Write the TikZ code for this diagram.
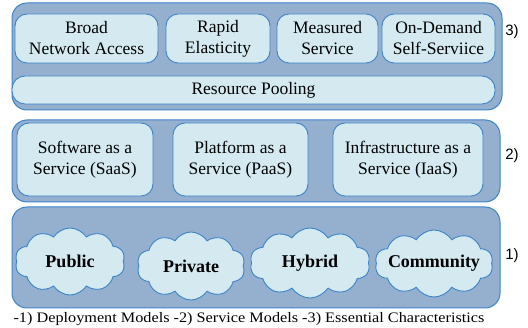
\documentclass[tikz,border=0pt]{standalone}
\usepackage{fontspec}
\setmainfont{Liberation Serif}
\newfontfamily\tagfont{Liberation Sans}
\newfontfamily\capfont[FakeStretch=1.12]{Liberation Serif}
\usepackage{tikz}
\usetikzlibrary{shapes.symbols, positioning}
\usepackage{xcolor}
\definecolor{panelfill}{HTML}{95AFCF}
\definecolor{cardfill}{HTML}{D4EAF0}
\definecolor{edgeblue}{HTML}{3C84C8}

\begin{document}
\begin{tikzpicture}[
  x=1pt, y=-1pt,
  panel/.style={rectangle, draw=edgeblue, fill=panelfill, line width=1pt, rounded corners=15pt, inner sep=0pt},
  card/.style={rectangle, draw=edgeblue, fill=cardfill, line width=0.9pt, rounded corners=12pt, align=center, inner sep=0pt, minimum height=49pt, font=\fontsize{17.5}{21}\selectfont},
  cloudbox/.style={cloud, draw=edgeblue, fill=cardfill, line width=0.9pt, cloud puffs=10, cloud puff arc=115, cloud ignores aspect, inner xsep=-16pt, inner ysep=-4pt, font=\fontsize{18}{21}\selectfont\bfseries},
  tag/.style={font=\tagfont\fontsize{15}{18}\selectfont},
]
\useasboundingbox (0,0) rectangle (528,328);

% essential characteristics
\node[panel, minimum width=490pt, minimum height=107pt] (essential) at (257,56.5) {};
\node[card, minimum width=143pt] (broad) at (86.5,38.5) {Broad\\Network Access};
\node[card, minimum width=104pt] (rapid) at (218,38.5) {Rapid\\Elasticity};
\node[card, minimum width=101pt] (measured) at (327.5,38.5) {Measured\\Service};
\node[card, minimum width=113pt] (ondemand) at (438.5,38.5) {On-Demand\\Self-Serviice};
\node[card, minimum width=483pt, minimum height=28pt, rounded corners=13pt] (pooling) at (253.5,90) {Resource Pooling};
\node[tag] (tagthree) at (512,32) {3)};

% service models
\node[panel, minimum width=488pt, minimum height=82pt] (service) at (256,161) {};
\node[card, minimum width=136pt, minimum height=73pt] (saas) at (85,159.5) {Software as a\\Service (SaaS)};
\node[card, minimum width=135pt, minimum height=73pt] (paas) at (240.5,159.5) {Platform as a\\Service (PaaS)};
\node[card, minimum width=150pt, minimum height=73pt] (iaas) at (408,159.5) {Infrastructure as a\\Service (IaaS)};
\node[tag] (tagtwo) at (512,156) {2)};

% deployment models
\node[panel, minimum width=488pt, minimum height=101pt] (deployment) at (256,257.5) {};
\node[cloudbox, minimum width=110pt, minimum height=67pt] (public) at (70,261.5) {Public};
\node[cloudbox, minimum width=108pt, minimum height=68pt] (private) at (191,266) {Private};
\node[cloudbox, minimum width=120pt, minimum height=70pt] (hybrid) at (310,263) {Hybrid};
\node[cloudbox, minimum width=118pt, minimum height=67pt] (community) at (434,263.5) {Community};
\node[tag] (tagone) at (512,256) {1)};

\node[font=\capfont\fontsize{14.5}{17}\selectfont] (caption) at (249,319) {-1) Deployment Models -2) Service Models -3) Essential Characteristics};

\end{tikzpicture}
\end{document}
